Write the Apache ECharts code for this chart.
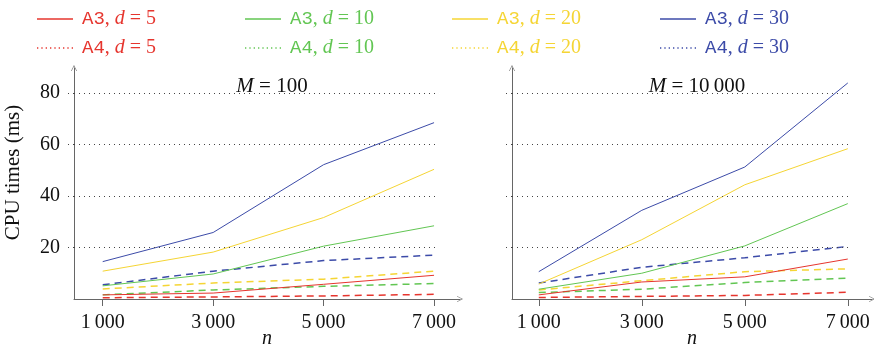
<!DOCTYPE html>
<html>
<head>
<meta charset="utf-8">
<script src="https://cdn.jsdelivr.net/npm/echarts@6/dist/echarts.min.js"></script>
<style>
  html, body { margin: 0; padding: 0; background: #fff; }
  #main { width: 874px; height: 350px; }
</style>
</head>
<body>
<div id="main"></div>
<script>
// x positions (problem size n)
var nValues = [1000, 3000, 5000, 7000];
var yTicks = [20, 40, 60, 80];
var panelTitles = ['100', '10\u2009000'];

// M = 100
var m100_a3_d5  = [1.6, 2.3, 5.7, 9.2];
var m100_a3_d10 = [5.1, 9.7, 20.5, 28.4];
var m100_a3_d20 = [10.8, 18.2, 31.6, 50.3];
var m100_a3_d30 = [14.5, 25.8, 52.1, 68.4];
var m100_a4_d5  = [0.5, 0.8, 1.2, 1.8];
var m100_a4_d10 = [1.6, 3.5, 4.9, 6.0];
var m100_a4_d20 = [3.9, 6.2, 7.7, 10.8];
var m100_a4_d30 = [5.5, 10.8, 14.9, 17.0];

// M = 10000
var m10k_a3_d5  = [1.6, 6.6, 8.6, 15.5];
var m10k_a3_d10 = [3.8, 10.0, 20.6, 37.0];
var m10k_a3_d20 = [5.8, 23.0, 44.3, 58.3];
var m10k_a3_d30 = [10.6, 34.4, 51.2, 83.8];
var m10k_a4_d5  = [0.6, 1.0, 1.4, 2.6];
var m10k_a4_d10 = [2.5, 3.8, 6.4, 8.1];
var m10k_a4_d20 = [3.5, 7.1, 10.6, 11.7];
var m10k_a4_d30 = [6.2, 12.3, 16.0, 20.4];

var dValues = [5, 10, 20, 30];
var colors = ['#e6352e', '#62c653', '#f5d534', '#3c4ba8'];

window.onload = function () {
    var chart = echarts.init(document.getElementById('main'));
    var serif = 'Liberation Serif';
    var mono = 'Liberation Mono';
    var fs = 20;
    var xMin = 480, xMax = 7470, yMax = 89.6;

    var panels = [
        { a3: [m100_a3_d5, m100_a3_d10, m100_a3_d20, m100_a3_d30],
          a4: [m100_a4_d5, m100_a4_d10, m100_a4_d20, m100_a4_d30] },
        { a3: [m10k_a3_d5, m10k_a3_d10, m10k_a3_d20, m10k_a3_d30],
          a4: [m10k_a4_d5, m10k_a4_d10, m10k_a4_d20, m10k_a4_d30] }
    ];

    function pairs(vals) {
        return nValues.map(function (n, i) { return [n, vals[i]]; });
    }
    function fmtN(v) {
        return String(v).replace(/(\d)(\d{3})$/, '$1\u2009$2');
    }

    var arrow = 'path://M0,10 L5,0 L10,10 L9,10 L5,2 L1,10 Z';
    var axisColor = '#666';
    // legend sample icons
    var solidIcon = 'path://M0,0 L36,0 L36,2 L0,2 Z';
    var dotIcon = 'path://' + [0, 1, 2, 3, 4, 5, 6, 7, 8].map(function (i) {
        return 'M' + (i * 4) + ',0 h1.2 v1.2 h-1.2 Z';
    }).join(' ');

    var grids = [
        { left: 74, right: 414, top: 68, bottom: 51, containLabel: false, outerBoundsMode: 'none' },
        { left: 512, right: 2, top: 68, bottom: 51, containLabel: false, outerBoundsMode: 'none' }
    ];
    var xAxes = [], yAxes = [], series = [];

    grids.forEach(function (g, gi) {
        xAxes.push({
            type: 'value', gridIndex: gi, min: xMin, max: xMax,
            name: 'n', nameLocation: 'middle', nameGap: 30, nameMoveOverlap: false,
            nameTextStyle: { fontFamily: serif, fontStyle: 'italic', fontSize: fs, color: '#111' },
            axisLine: { lineStyle: { color: axisColor, width: 1 }, symbol: ['none', arrow], symbolSize: [9, 6] },
            axisTick: { show: true, customValues: nValues, length: 7, lineStyle: { color: axisColor } },
            axisLabel: { customValues: nValues, formatter: fmtN, margin: 14, fontFamily: serif, fontSize: fs, color: '#111' },
            splitLine: { show: false }
        });
        yAxes.push({
            type: 'value', gridIndex: gi, min: 0, max: yMax,
            name: gi === 0 ? 'CPU times (ms)' : '', nameLocation: 'middle', nameGap: 50,
            nameTextStyle: { fontFamily: serif, fontSize: 21, color: '#111', padding: [0, 0, 0, 22] },
            axisLine: { lineStyle: { color: axisColor, width: 1 }, symbol: ['none', arrow], symbolSize: [9, 6] },
            axisTick: { show: true, customValues: yTicks, length: 6, lineStyle: { color: '#444', type: [1, 4] } },
            axisLabel: { show: gi === 0, customValues: yTicks, margin: 14, fontFamily: serif, fontSize: fs, color: '#111' },
            splitLine: { show: false }
        });
        // dotted grid lines
        series.push({
            type: 'line', xAxisIndex: gi, yAxisIndex: gi, data: [], silent: true, z: 1,
            markLine: {
                symbol: 'none', silent: true, animation: false,
                label: { show: false },
                lineStyle: { color: '#444', type: [1, 4], width: 1 },
                data: yTicks.map(function (v) {
                    return [{ coord: [xMin, v] }, { coord: [7040, v] }];
                })
            }
        });
        dValues.forEach(function (d, k) {
            series.push({
                name: 'A3, d = ' + d, type: 'line', xAxisIndex: gi, yAxisIndex: gi,
                data: pairs(panels[gi].a3[k]), showSymbol: false, symbol: 'none', z: 3,
                color: colors[k], lineStyle: { width: 1, color: colors[k] }
            });
        });
        dValues.forEach(function (d, k) {
            series.push({
                name: 'A4, d = ' + d, type: 'line', xAxisIndex: gi, yAxisIndex: gi,
                data: pairs(panels[gi].a4[k]), showSymbol: false, symbol: 'none', z: 2,
                color: colors[k], lineStyle: { width: 1.5, color: colors[k], type: [7, 5] }
            });
        });
    });

    // legend: one column per d value
    var rich = {};
    colors.forEach(function (c, k) {
        rich['m' + k] = { fontFamily: mono, fontSize: 19, color: c };
        rich['s' + k] = { fontFamily: serif, fontSize: 20, color: c };
        rich['i' + k] = { fontFamily: serif, fontStyle: 'italic', fontSize: 20, color: c };
    });
    var legendLeft = [32, 240, 447, 655];
    var legends = dValues.map(function (d, k) {
        return {
            orient: 'vertical', left: legendLeft[k], top: 3,
            itemWidth: 36, itemHeight: 14, itemGap: 7, selectedMode: false,
            textStyle: { lineHeight: 22, padding: [0, 0, 0, 4], rich: rich },
            formatter: function (name) {
                var alg = name.slice(0, 2);
                return '{m' + k + '|' + alg + '}{s' + k + '|, }{i' + k + '|d}{s' + k + '| = ' + d + '}';
            },
            data: [
                { name: 'A3, d = ' + d, icon: solidIcon, itemStyle: { color: colors[k], opacity: 0.75 } },
                { name: 'A4, d = ' + d, icon: dotIcon, itemStyle: { color: colors[k] } }
            ]
        };
    });

    var titles = panelTitles.map(function (t, i) {
        return {
            text: '{it|M}{tx| = ' + t + '}',
            left: i === 0 ? 267 : 692, top: 71, textAlign: 'center',
            textStyle: {
                fontWeight: 'normal',
                rich: {
                    it: { fontFamily: serif, fontStyle: 'italic', fontWeight: 'normal', fontSize: 21, color: '#111' },
                    tx: { fontFamily: serif, fontWeight: 'normal', fontSize: 21, color: '#111' }
                }
            }
        };
    });

    var option = {
        animation: false,
        backgroundColor: '#fff',
        title: titles,
        legend: legends,
        grid: grids,
        xAxis: xAxes,
        yAxis: yAxes,
        series: series
    };
    chart.setOption(option);
};
</script>
</body>
</html>
